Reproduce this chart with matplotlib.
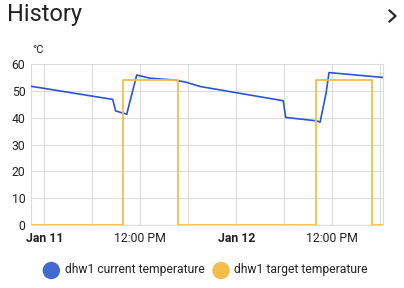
import matplotlib
matplotlib.use("Agg")
import matplotlib.pyplot as plt
import matplotlib.dates as mdates
from matplotlib.lines import Line2D
from matplotlib.patches import Ellipse
import pandas as pd

plt.rcParams['font.family'] = ['Roboto', 'DejaVu Sans']

# Data
cur_times = ["2025-01-10 22:20", "2025-01-11 08:33", "2025-01-11 08:55", "2025-01-11 10:18",
             "2025-01-11 11:33", "2025-01-11 13:12", "2025-01-11 16:06", "2025-01-11 17:36",
             "2025-01-11 19:30", "2025-01-12 05:52", "2025-01-12 06:10", "2025-01-12 10:03",
             "2025-01-12 10:28", "2025-01-12 11:13", "2025-01-12 11:35", "2025-01-12 18:18"]
cur_values = [51.7, 46.8, 42.5, 41.3, 55.9, 54.7, 54.1, 53.3, 51.6, 46.3, 40.1, 38.8,
              38.3, 49.1, 56.8, 55.0]

tgt_times = ["2025-01-10 22:20", "2025-01-11 09:52", "2025-01-11 16:45",
             "2025-01-12 09:58", "2025-01-12 16:56", "2025-01-12 18:20"]
tgt_values = [0, 54, 0, 54, 0, 0]

series_names = ["dhw1 current temperature", "dhw1 target temperature"]
y_ticks = [0, 10, 20, 30, 40, 50, 60]
unit = "°C"
title = "History"

blue = "#2a56d4"
orange = "#f4bd4a"
blue_dot = "#4269d0"

W, H = 404, 288
fig = plt.figure(figsize=(W / 100, H / 100), dpi=100)
ax = fig.add_axes([31 / W, (H - 225) / H, (383 - 31) / W, (225 - 64) / H])

ct = pd.to_datetime(cur_times)
tt = pd.to_datetime(tgt_times)

ax.plot(ct, cur_values, color=blue, lw=1.2, zorder=3)
ax.plot(tt, tgt_values, color=orange, lw=1.3, drawstyle='steps-post', zorder=4)

ax.set_xlim(pd.Timestamp("2025-01-10 22:20"), pd.Timestamp("2025-01-12 18:20"))
ax.set_ylim(0, 60)
ax.set_yticks(y_ticks)

ax.xaxis.set_major_locator(mdates.HourLocator(byhour=[0, 12]))
ax.xaxis.set_minor_locator(mdates.HourLocator(byhour=[6, 18]))

def fmt(x, pos=None):
    d = mdates.num2date(x)
    if d.hour == 0:
        return d.strftime("%b ") + str(d.day)
    return "12:00 PM"

ax.xaxis.set_major_formatter(plt.FuncFormatter(fmt))

ax.grid(True, which='both', color='#dcdcdc', lw=0.8, zorder=0)
for s in ax.spines.values():
    s.set_color('#dcdcdc')
    s.set_linewidth(0.8)
ax.tick_params(which='both', length=0, labelsize=8.8, colors='#222222', pad=4)
ax.tick_params(axis='x', pad=5)
for lbl in ax.get_xticklabels():
    if lbl.get_text().startswith("Jan"):
        lbl.set_fontweight('bold')

fig.text(32 / W, 1 - 50 / H, unit, fontsize=8, color='#222222', va='center', ha='left')
fig.text(7 / W, 1 - 15 / H, title, fontsize=17, color='#212121', va='center', ha='left')

# chevron
fig.add_artist(Line2D([389.5 / W, 395.5 / W, 389.5 / W],
                      [1 - 10.5 / H, 1 - 16 / H, 1 - 21.5 / H],
                      color='#212121', lw=1.5, solid_joinstyle='miter'))

# legend (manual)
leg_items = [(51.3, 65, blue_dot), (221, 234.5, orange)]
for (cx, tx, col), name in zip(leg_items, series_names):
    fig.add_artist(Ellipse((cx / W, 1 - 270.5 / H), 16 / W, 16 / H, color=col,
                           transform=fig.transFigure))
    fig.text(tx / W, 1 - 269.5 / H, name, fontsize=8.7, color='#222222', va='center', ha='left')

fig.savefig("out.png", dpi=100)
